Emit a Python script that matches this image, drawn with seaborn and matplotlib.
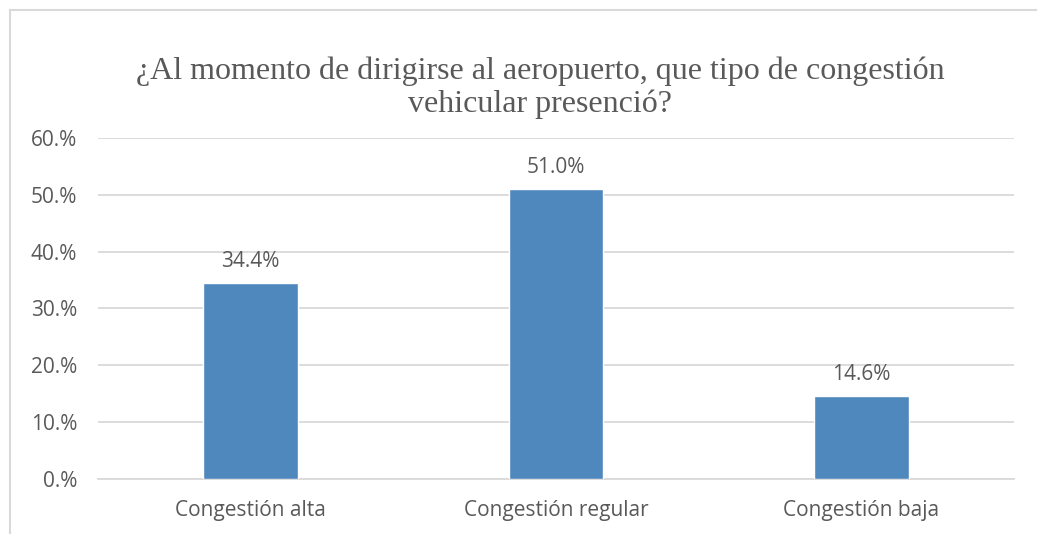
import matplotlib
matplotlib.use("Agg")
import matplotlib.pyplot as plt
from matplotlib.patches import Rectangle
import seaborn as sns
import pandas as pd

categories = ["Congestión alta", "Congestión regular", "Congestión baja"]
values = [34.4, 51.0, 14.6]
y_ticks = [0, 10, 20, 30, 40, 50, 60]
y_tick_labels = ["0.%", "10.%", "20.%", "30.%", "40.%", "50.%", "60.%"]
title = "¿Al momento de dirigirse al aeropuerto, que tipo de congestión\nvehicular presenció?"

sns.set_theme(style="white")
plt.rcParams["font.family"] = ["Open Sans", "DejaVu Sans"]

text_color = "#595959"
bar_color = "#4F88BD"
grid_color = "#D9D9D9"

df = pd.DataFrame({"categoria": categories, "valor": values})

fig = plt.figure(figsize=(10.37, 5.34), dpi=100)
ax = fig.add_axes([0.0945, 0.1030, 0.8833, 0.6386])

sns.barplot(data=df, x="categoria", y="valor", color=bar_color,
            width=0.31, saturation=1, ax=ax, zorder=3)

ax.set_ylim(0, 60)
ax.set_xlim(-0.5, 2.5)
ax.set_yticks(y_ticks)
ax.set_yticklabels(y_tick_labels)
ax.yaxis.grid(True, color=grid_color, linewidth=1.3, zorder=0)
ax.set_axisbelow(True)
for side in ["top", "right", "left"]:
    ax.spines[side].set_visible(False)
ax.spines["bottom"].set_color(grid_color)
ax.spines["bottom"].set_linewidth(1.3)
ax.tick_params(axis="both", length=0, labelsize=15, colors=text_color)
ax.tick_params(axis="y", pad=15)
ax.tick_params(axis="x", pad=15)
ax.set_xlabel("")
ax.set_ylabel("")

for container in ax.containers:
    ax.bar_label(container, labels=[f"{v:.1f}%" for v in values],
                 padding=8, fontsize=15, color=text_color)

fig.text(0.521, 0.836, title, ha="center", va="center",
         family=["Liberation Serif", "DejaVu Serif"], fontsize=23,
         color=text_color, linespacing=1.18)

# outer chart frame
fig.patches.append(Rectangle((10 / 1037, -0.05), 1.2, 1 - 10 / 534 + 0.05,
                             transform=fig.transFigure, fill=False,
                             edgecolor="#D9D9D9", linewidth=1.5))

fig.savefig("out.png", dpi=100, facecolor="white")
